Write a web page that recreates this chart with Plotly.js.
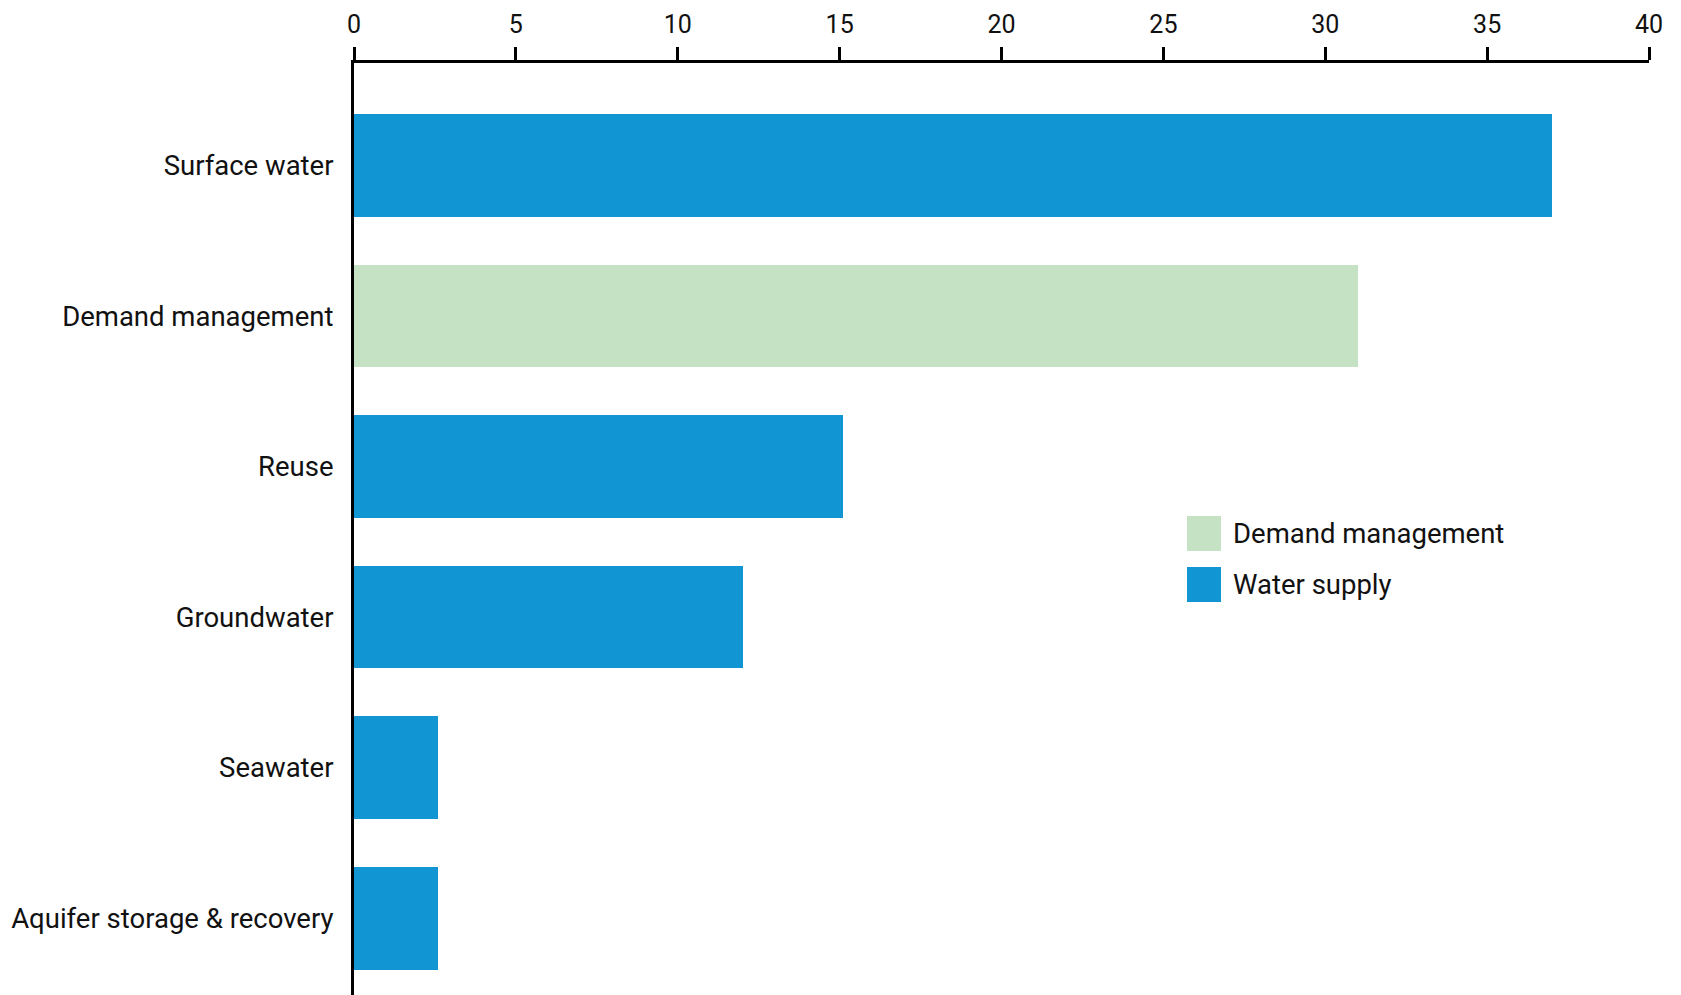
<!DOCTYPE html>
<html>
<head>
<meta charset="utf-8">
<script src="https://cdn.plot.ly/plotly-3.0.1.min.js"></script>
<style>html,body{margin:0;padding:0;background:#fff;}#chart{width:1681px;height:995px;}</style>
</head>
<body>
<div id="chart"></div>
<script>
// Categories, top to bottom
const categories = ["Surface water", "Demand management", "Reuse", "Groundwater", "Seawater", "Aquifer storage & recovery"];

// Series
const supplyCategories = ["Surface water", "Reuse", "Groundwater", "Seawater", "Aquifer storage & recovery"];
const supplyValues = [37, 15.1, 12, 2.6, 2.6];
const demandCategories = ["Demand management"];
const demandValues = [31];

const seriesNames = ["Demand management", "Water supply"];
const seriesColors = ["#C5E2C4", "#1296D3"];

const xTicks = [0, 5, 10, 15, 20, 25, 30, 35, 40];

const FONT = "Roboto, 'Liberation Sans', sans-serif";
const TEXT = "#111111";

const W = 1681, H = 995;
const M = {l: 354, r: 32, t: 63, b: 0};
const PW = W - M.l - M.r, PH = H - M.t - M.b;
const px = x => (x - M.l) / PW;
const py = y => 1 - (y - M.t) / PH;

const traces = [
  {type: "bar", orientation: "h", name: seriesNames[1], y: supplyCategories, x: supplyValues,
   marker: {color: seriesColors[1], line: {width: 0}}, showlegend: false, hoverinfo: "x+y"},
  {type: "bar", orientation: "h", name: seriesNames[0], y: demandCategories, x: demandValues,
   marker: {color: seriesColors[0], line: {width: 0}}, showlegend: false, hoverinfo: "x+y"}
];

// Custom legend (large swatches)
const legendItems = [
  {name: seriesNames[0], color: seriesColors[0], y0: 516, y1: 551},
  {name: seriesNames[1], color: seriesColors[1], y0: 567, y1: 602}
];
const shapes = legendItems.map(it => ({
  type: "rect", xref: "paper", yref: "paper",
  x0: px(1187), x1: px(1221), y0: py(it.y1), y1: py(it.y0),
  fillcolor: it.color, line: {width: 0}
}));
const annotations = legendItems.map(it => ({
  xref: "paper", yref: "paper", x: px(1231), y: py((it.y0 + it.y1) / 2),
  xanchor: "left", yanchor: "middle", showarrow: false, text: it.name,
  font: {family: FONT, size: 27.5, color: TEXT}
}));

const layout = {
  width: W, height: H,
  margin: M,
  paper_bgcolor: "#ffffff", plot_bgcolor: "#ffffff",
  barmode: "stack", bargap: 0.318,
  showlegend: false,
  font: {family: FONT, color: TEXT},
  xaxis: {
    side: "top", range: [0, 40], tickvals: xTicks, ticktext: xTicks.map(String),
    ticks: "outside", ticklen: 13, tickwidth: 3, tickcolor: "#000",
    showline: true, linewidth: 3, linecolor: "#000",
    showgrid: false, zeroline: false,
    ticklabelstandoff: 4,
    tickfont: {family: FONT, size: 25, color: TEXT}
  },
  yaxis: {
    type: "category", categoryorder: "array", categoryarray: categories,
    range: [5.51, -0.68],
    showline: true, linewidth: 3, linecolor: "#000",
    ticks: "", showgrid: false, zeroline: false,
    ticklabelstandoff: 12,
    tickfont: {family: FONT, size: 27.5, color: TEXT}
  },
  shapes: shapes,
  annotations: annotations
};

Plotly.newPlot("chart", traces, layout, {displayModeBar: false, staticPlot: true});
</script>
</body>
</html>
